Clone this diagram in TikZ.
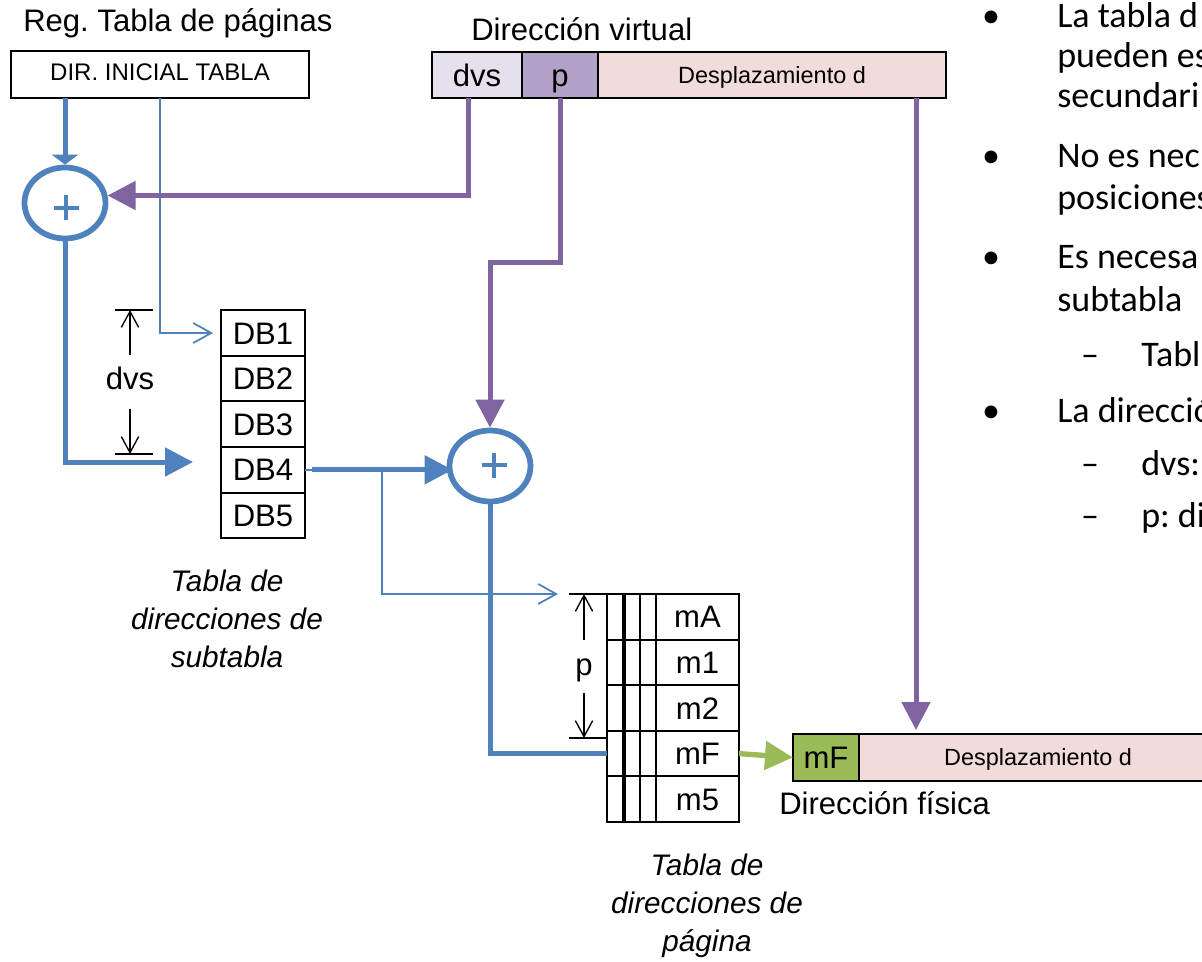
\documentclass[tikz,border=0pt]{standalone}
\usepackage{fontspec}
\setmainfont{Liberation Sans}
\newfontfamily\calibrifont{Carlito}
\usetikzlibrary{arrows.meta,shapes.geometric,calc}
\frenchspacing

\definecolor{ppblue}{HTML}{4F81BD}
\definecolor{pppurple}{HTML}{8064A2}
\definecolor{ppgreen}{HTML}{9BBB59}
\definecolor{lavlight}{HTML}{E6E0EC}
\definecolor{lavmid}{HTML}{B3A2C7}
\definecolor{rosefill}{HTML}{F2DCDB}

\newcommand\szmain{\fontsize{23.3}{28}\selectfont}
\newcommand\szsmall{\fontsize{17.6}{21}\selectfont}
\newcommand\szdir{\fontsize{18}{21}\selectfont}
\newcommand\szcap{\fontsize{22.3}{28.5}\selectfont}
\newcommand\szright{\fontsize{27}{30}\selectfont}

\tikzset{
  cell/.style={draw=black, line width=1.5pt, inner sep=0pt, outer sep=0pt,
    font=\szmain, text height=16.7pt, text depth=0pt},
  smallcell/.style={cell, font=\szsmall, text height=12.6pt},
  adder/.style={ellipse, draw=ppblue, line width=4.3pt, inner sep=0pt,
    minimum width=60.75pt, minimum height=53.25pt},
  plusbar/.style={draw=ppblue, line width=2.5pt},
  bluethick/.style={draw=ppblue, line width=3.75pt},
  purplethick/.style={draw=pppurple, line width=3.75pt},
  greenthick/.style={draw=ppgreen, line width=4pt},
  bluethin/.style={draw=ppblue, line width=1.3pt,
    -{Straight Barb[length=13.5pt,width=15pt]}},
  bigtip/.style={-{Triangle[length=21pt,width=21pt]}},
  dimline/.style={draw=black, line width=1pt},
  dimarrow/.style={draw=black, line width=1pt,
    -{Straight Barb[length=12pt,width=13pt]}},
  plain/.style={inner sep=0pt, font=\szmain},
  caption/.style={inner sep=0pt, align=center, font=\itshape\szcap},
  rtext/.style={inner sep=0pt, anchor=base west, font=\calibrifont\szright},
  rmark/.style={inner sep=0pt, anchor=base, font=\calibrifont\szright},
}

\begin{document}
\begin{tikzpicture}[x=0.75pt,y=-0.75pt]
\useasboundingbox (0,0) rectangle (1202,962);
\clip (0,0) rectangle (1202,962);

% titles
\node[plain, anchor=base west] (regtitle) at (23,32) {Reg. Tabla de páginas};
\node[plain, anchor=base west] (vtitle) at (471,41) {Dirección virtual};
\node[plain, anchor=base west] (ftitle) at (779,814) {Dirección física};

% page table register
\node[cell, font=\szdir, text height=12.9pt, text depth=3.6pt,
      minimum width=223.5pt, minimum height=35.25pt] (dir) at (160,74.5) {DIR. INICIAL TABLA};

% virtual address
\node[cell, fill=lavlight, minimum width=67.5pt, minimum height=34.5pt] (vdvs) at (477,75) {dvs};
\node[cell, fill=lavmid, minimum width=57pt, minimum height=34.5pt] (vp) at (560,75) {p};
\node[smallcell, fill=rosefill, minimum width=261pt, minimum height=34.5pt] (vd) at (772,75) {Desplazamiento d};

% subtable directory
\foreach \i/\y in {1/333,2/378.6,3/424.2,4/469.8,5/515.4}
  \node[cell, minimum width=63pt, minimum height=34.2pt] (db\i) at (263,\y) {DB\i};

% stacked page tables (back columns)
\foreach \xa/\xb in {607/623,625/640,640/656}
  \foreach \r in {0,...,4}
    \draw[line width=1.5pt] (\xa,{594+45.6*\r}) rectangle (\xb,{639.6+45.6*\r});
\coordinate (stackW) at (607,594);

% page table (front column)
\foreach \i/\t/\y in {1/mA/616.8,2/m1/662.4,3/m2/708,4/mF/753.6,5/m5/799.2}
  \node[cell, minimum width=62.25pt, minimum height=34.2pt] (pg\i) at (697.5,\y) {\t};

% physical address
\node[cell, fill=ppgreen, minimum width=49.5pt, minimum height=35.25pt] (fmF) at (826,757.5) {mF};
\node[smallcell, fill=rosefill, minimum width=268.5pt, minimum height=35.25pt] (fd) at (1038,757.5) {Desplazamiento d};

% adders
\node[adder] (c1) at (65,203) {};
\node[adder] (c2) at (490,466) {};
\draw[plusbar] ($(c1)+(1,5)$) ++(-12.5,0) -- ++(25,0);
\draw[plusbar] ($(c1)+(1,5)$) ++(0,-12.5) -- ++(0,25);
\draw[plusbar] ($(c2)+(4,-1)$) ++(-12.5,0) -- ++(25,0);
\draw[plusbar] ($(c2)+(4,-1)$) ++(0,-12.5) -- ++(0,25);

% captions
\node[caption] (cap1) at (227,619) {Tabla de\\direcciones de\\subtabla};
\node[caption] (cap2) at (707,905.5) {Tabla de\\direcciones de\\página};

% dvs span
\coordinate (dvsTopL) at (115,310); \coordinate (dvsTopR) at (153,310);
\coordinate (dvsBotL) at (115,454); \coordinate (dvsBotR) at (153,454);
\draw[dimline] (dvsTopL) -- (dvsTopR);
\draw[dimline] (dvsBotL) -- (dvsBotR);
\node[plain, anchor=base] (dvslab) at (130,389) {dvs};
\coordinate (dvsUpS) at (130,355); \coordinate (dvsUpE) at (130,310);
\coordinate (dvsDnS) at (130,409); \coordinate (dvsDnE) at (130,454);
\draw[dimarrow] (dvsUpS) -- (dvsUpE);
\draw[dimarrow] (dvsDnS) -- (dvsDnE);

% p span
\coordinate (pTopL) at (569,594); \coordinate (pBotL) at (569,738);
\draw[dimline] (pTopL) -- (stackW);
\draw[dimline] (pBotL) -- (stackW |- pBotL);
\node[plain, anchor=base] (plab) at (584,675) {p};
\coordinate (pUpS) at (584,640); \coordinate (pUpE) at (584,594);
\coordinate (pDnS) at (584,693); \coordinate (pDnE) at (584,738);
\draw[dimarrow] (pUpS) -- (pUpE);
\draw[dimarrow] (pDnS) -- (pDnE);

% connectors
\draw[bluethick, -{Triangle[length=7.5pt,width=19.5pt]}] (dir.south -| c1.north) -- (c1.north);
\draw[bluethin, shorten >=6pt] (dir.south) |- (db1.west);
\coordinate (vdvsOut) at ($(vdvs.south)+(-9,0)$);
\draw[purplethick, bigtip] (vdvsOut) |- (c1.10);
\coordinate (db4in) at (193,462);
\draw[bluethick, bigtip] (c1.south) |- (db4in);
\coordinate (pgIn) at (558,594);
\draw[bluethin] (db4.east) -- ($(db4.east)+(77,0)$) |- (pgIn);
\draw[bluethick, bigtip, shorten >=-4.5pt] ($(db4.east)+(7,0)$) -- (c2.west |- db4.east);
\draw[purplethick, bigtip] (vp.south) -- ++(0,165) -| (c2.north);
\draw[bluethick] (c2.south) |- (stackW |- pg4);
\draw[greenthick, bigtip] (pg4.east) -- (fmF.west);
\coordinate (vdOut) at ($(vd.south)+(144,0)$);
\draw[purplethick, bigtip, shorten >=3pt] (vdOut) -- (vdOut |- fd.north);

% notes on the right
\node[rmark] (bl1) at (991,28) {•};
\node[rtext] (t1) at (1057,28) {La tabla d};
\node[rtext] (t2) at (1057,68) {pueden es};
\node[rtext] (t3) at (1057,108) {secundari};
\node[rmark] (bl2) at (991,168) {•};
\node[rtext] (t4) at (1057,168) {No es nec};
\node[rtext] (t5) at (1057,210) {posiciones};
\node[rmark] (bl3) at (991,269) {•};
\node[rtext] (t6) at (1057,269) {Es necesa};
\node[rtext] (t7) at (1057,312) {subtabla};
\node[rmark] (ds1) at (1090,366) {–};
\node[rtext] (t8) at (1141,366) {Tabl};
\node[rmark] (bl4) at (991,422) {•};
\node[rtext] (t9) at (1057,422) {La direcció};
\node[rmark] (ds2) at (1090,475) {–};
\node[rtext] (t10) at (1141,475) {dvs:};
\node[rmark] (ds3) at (1090,527) {–};
\node[rtext] (t11) at (1141,527) {p: di};
\end{tikzpicture}
\end{document}
